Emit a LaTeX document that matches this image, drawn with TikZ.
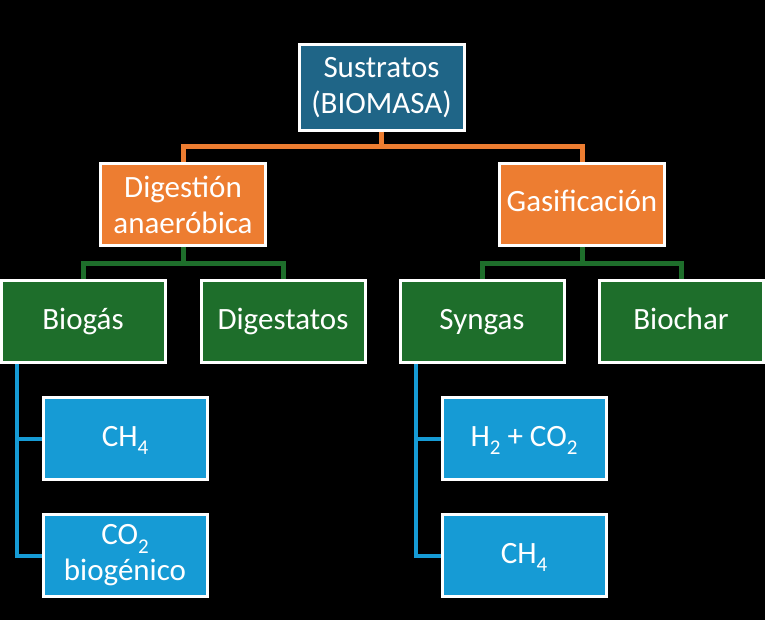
\documentclass[tikz,border=0pt]{standalone}
\usepackage{fontspec}
\setmainfont{Carlito}
\definecolor{teal}{HTML}{1F6587}
\definecolor{orng}{HTML}{ED7D31}
\definecolor{grn}{HTML}{1E6E2B}
\definecolor{blu}{HTML}{169BD5}
\newcommand\subx[1]{\raisebox{-0.28em}{\fontsize{21}{21}\selectfont #1}}
\tikzset{
  box/.style={draw=white, line width=3pt, text=white, align=center,
    inner sep=0pt, font=\fontsize{31}{36}\selectfont},
  one/.style={text height=21pt, text depth=6pt},
  topbox/.style={box, fill=teal, minimum width=165pt, minimum height=86pt},
  obox/.style={box, fill=orng, minimum width=165pt, minimum height=82pt},
  gbox/.style={box, one, fill=grn, minimum width=164pt, minimum height=82pt},
  bbox/.style={box, fill=blu, minimum width=164pt, minimum height=82pt},
  oline/.style={draw=orng, line width=5pt},
  gline/.style={draw=grn, line width=5pt},
  bline/.style={draw=blu, line width=4pt},
}
\begin{document}
\begin{tikzpicture}[x=1pt,y=-1pt]
\fill[black] (0,0) rectangle (765,620);
\useasboundingbox (0,0) rectangle (765,620);
\coordinate (oj) at (381.5,147);
\coordinate (gjl) at (183,263);
\coordinate (gjr) at (582,263);
\coordinate (bl) at (17,364);
\coordinate (br) at (416,364);
\node[topbox] (top) at (381.5,87.5) {Sustratos\\(BIOMASA)};
\node[obox] (dig) at (183,204.5) {Digestión\\anaeróbica};
\node[obox, one] (gas) at (582,204.5) {Gasificación};
\node[gbox] (biogas) at (83,321.5) {Biogás};
\node[gbox] (digest) at (283,321.5) {Digestatos};
\node[gbox] (syn) at (482,321.5) {Syngas};
\node[gbox] (biochar) at (681,321.5) {Biochar};
\node[bbox, one] (ch4a) at (125,438.5) {CH\subx{4}};
\node[bbox] (co2) at (125,555.5) {CO\subx{2}\\biogénico};
\node[bbox, one] (h2) at (524,438.5) {H\subx{2} + CO\subx{2}};
\node[bbox, one] (ch4b) at (524,555.5) {CH\subx{4}};
\draw[oline] (top.south) -- (oj) -| (dig.north);
\draw[oline] (oj) -| (gas.north);
\draw[gline] (dig.south) -- (gjl) -| (biogas.north);
\draw[gline] (gjl) -| (digest.north);
\draw[gline] (gas.south) -- (gjr) -| (syn.north);
\draw[gline] (gjr) -| (biochar.north);
\draw[bline] (bl) |- (co2.west);
\draw[bline] (bl |- ch4a.west) -- (ch4a.west);
\draw[bline] (br) |- (ch4b.west);
\draw[bline] (br |- h2.west) -- (h2.west);
\end{tikzpicture}
\end{document}
